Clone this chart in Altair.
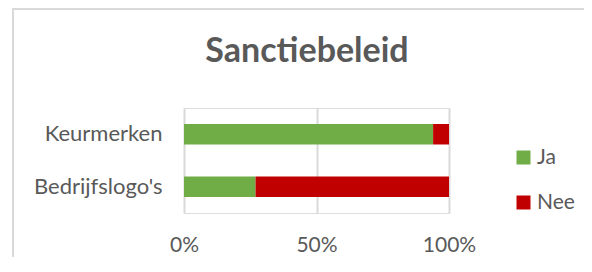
import altair as alt
import pandas as pd

title_text = "Sanctiebeleid"
categories = ["Keurmerken", "Bedrijfslogo's"]
answers = ["Ja", "Nee"]
ja_values = [94, 27]
nee_values = [6, 73]
colors = ["#70AD47", "#C00000"]

rows = []
for i, c in enumerate(categories):
    rows.append({"categorie": c, "antwoord": "Ja", "waarde": ja_values[i], "volgorde": 0})
    rows.append({"categorie": c, "antwoord": "Nee", "waarde": nee_values[i], "volgorde": 1})
df = pd.DataFrame(rows)

FONT = "Lato"
GRAY = "#595959"

bars = alt.Chart(df).mark_bar().encode(
    y=alt.Y("categorie:N", sort=categories, title=None,
            scale=alt.Scale(paddingInner=0.61, paddingOuter=0.305),
            axis=alt.Axis(domain=False, ticks=False, grid=False, labelFont=FONT,
                          labelFontSize=22, labelColor=GRAY, labelPadding=22)),
    x=alt.X("waarde:Q", stack="normalize", title=None,
            axis=alt.Axis(values=[0, 0.5, 1], format="%", domain=False, ticks=False,
                          tickSize=0, grid=True, gridColor="#d9d9d9", gridWidth=2,
                          labelFont=FONT, labelFontSize=21, labelColor=GRAY,
                          labelPadding=21, labelFlush=False, labelOverlap=False)),
    color=alt.Color("antwoord:N", scale=alt.Scale(domain=answers, range=colors),
                    legend=alt.Legend(title=None, orient="none", legendX=329, legendY=39,
                                      symbolType="square", symbolSize=196,
                                      symbolStrokeWidth=0, labelFont=FONT,
                                      labelFontSize=21, labelColor=GRAY, labelOffset=3,
                                      rowPadding=23, padding=0)),
    order=alt.Order("volgorde:Q"),
)

one = pd.DataFrame({"k": [0]})
frame_top = alt.Chart(one).mark_rule(color="#d9d9d9", strokeWidth=2).encode(
    x=alt.value(-172), x2=alt.value(420), y=alt.value(-99))
frame_left = alt.Chart(one).mark_rule(color="#d9d9d9", strokeWidth=2).encode(
    x=alt.value(-171), y=alt.value(-100), y2=alt.value(200))

title = alt.Chart(pd.DataFrame({"t": [title_text]})).mark_text(
    font=FONT, fontSize=34, fontWeight="bold", color=GRAY,
    align="center", baseline="alphabetic"
).encode(text="t:N", x=alt.value(123), y=alt.value(-46))

chart = alt.layer(frame_top, frame_left, title, bars).properties(
    width=265,
    height=105,
    autosize=alt.AutoSizeParams(type="none"),
    padding={"left": 176, "top": 100, "right": 135, "bottom": 44},
).configure_view(stroke=None).configure(background="white")

chart.save("out.html", embed_options={"renderer": "svg", "actions": False})
